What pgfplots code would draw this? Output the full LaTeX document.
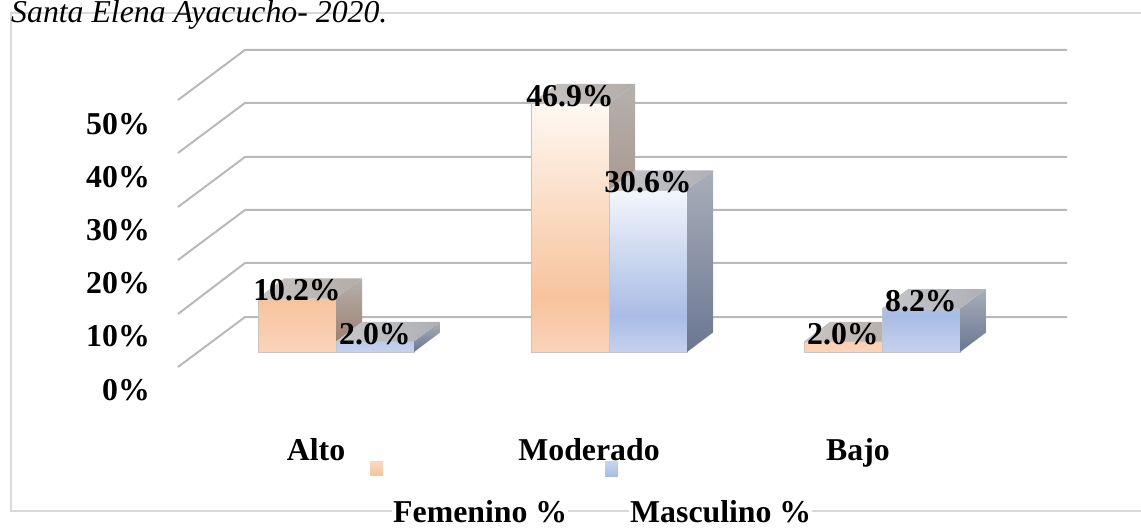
\documentclass[border=0pt]{standalone}
\usepackage{fontspec}
\setmainfont{Liberation Serif}
\usepackage{pgfplots}
\pgfplotsset{compat=1.18}
\definecolor{femtop}{HTML}{FFF8F2}
\definecolor{femdark}{HTML}{F7C39D}
\definecolor{femlow}{HTML}{FAD3B9}
\definecolor{mastop}{HTML}{F3F6FC}
\definecolor{masdark}{HTML}{A9BCE4}
\definecolor{maslow}{HTML}{C5D2EE}
\definecolor{femsideT}{HTML}{B5B0AD}
\definecolor{femsideB}{HTML}{9A7866}
\definecolor{massideT}{HTML}{A9AEB8}
\definecolor{massideB}{HTML}{6A7793}
\definecolor{femtopL}{HTML}{C9C5C3}
\definecolor{femtopR}{HTML}{B2ACA8}
\definecolor{mastopL}{HTML}{C6C7CA}
\definecolor{mastopR}{HTML}{AEB0B6}
\definecolor{gridc}{HTML}{B9B9B9}
\definecolor{borderc}{HTML}{D9D9D9}
\pgfdeclareverticalshading{femshade}{100bp}{color(0bp)=(femlow); color(25bp)=(femlow); color(36bp)=(femdark); color(75bp)=(femtop); color(100bp)=(femtop)}
\pgfdeclareverticalshading{masshade}{100bp}{color(0bp)=(maslow); color(25bp)=(maslow); color(36bp)=(masdark); color(75bp)=(mastop); color(100bp)=(mastop)}
\newcommand\chartfont{\fontsize{31.8}{38}\selectfont}
\tikzset{wall/.style={draw=gridc, line width=2pt, line join=round},
  lab/.style={inner sep=0pt, font=\chartfont\bfseries}}
\begin{document}
\begin{tikzpicture}
\begin{axis}[name=ax, scale only axis, width=1141pt, height=527pt,
  xmin=-1.2308, xmax=2.9487, ymin=-33.02, ymax=66.42,
  hide axis, clip=false, enlargelimits=false]
% chart border
\draw[borderc, line width=1.4pt] (axis cs:-1.1905,-30.0) rectangle (axis cs:3.05,63.96);
% walls / gridlines
\addplot[wall] coordinates {(-0.5788,-2.83) (-0.3333,6.6) (2.678,6.6)};
\addplot[wall] coordinates {(-0.5788,7.17) (-0.3333,16.8) (2.678,16.8)};
\addplot[wall] coordinates {(-0.5788,17.36) (-0.3333,26.8) (2.678,26.8)};
\addplot[wall] coordinates {(-0.5788,27.36) (-0.3333,36.8) (2.678,36.8)};
\addplot[wall] coordinates {(-0.5788,37.55) (-0.3333,47.0) (2.678,47.0)};
\addplot[wall] coordinates {(-0.5788,47.55) (-0.3333,57.0) (2.678,57.0)};
% Femenino front faces
\addplot[ybar, bar width=0.285714, bar shift=-0.142857, shade, shading=femshade, draw=gray!45, line width=0.5pt]
  coordinates {(0,10.2) (1,46.9) (2,2.0)};
% Femenino side faces
\addplot[draw=none, top color=femsideT, bottom color=femsideB] coordinates {(0,0) (0,10.2) (0.0952,13.88) (0.0952,3.68)} -- cycle;
\addplot[draw=none, top color=femsideT, bottom color=femsideB] coordinates {(1,0) (1,46.9) (1.0952,50.58) (1.0952,3.68)} -- cycle;
\addplot[draw=none, top color=femsideT, bottom color=femsideB] coordinates {(2,0) (2,2.0) (2.0952,5.68) (2.0952,3.68)} -- cycle;
% Femenino top faces
\addplot[draw=none, left color=femtopL, right color=femtopR] coordinates {(-0.285714,10.2) (0,10.2) (0.0952,13.88) (-0.1905,13.88)} -- cycle;
\addplot[draw=none, left color=femtopL, right color=femtopR] coordinates {(0.714286,46.9) (1,46.9) (1.0952,50.58) (0.8095,50.58)} -- cycle;
\addplot[draw=none, left color=femtopL, right color=femtopR] coordinates {(1.714286,2.0) (2,2.0) (2.0952,5.68) (1.8095,5.68)} -- cycle;
% Masculino front faces
\addplot[ybar, bar width=0.285714, bar shift=0.142857, shade, shading=masshade, draw=gray!45, line width=0.5pt]
  coordinates {(0,2.0) (1,30.6) (2,8.2)};
% Masculino side faces
\addplot[draw=none, top color=massideT, bottom color=massideB] coordinates {(0.285714,0) (0.285714,2.0) (0.3809,5.68) (0.3809,3.68)} -- cycle;
\addplot[draw=none, top color=massideT, bottom color=massideB] coordinates {(1.285714,0) (1.285714,30.6) (1.3809,34.28) (1.3809,3.68)} -- cycle;
\addplot[draw=none, top color=massideT, bottom color=massideB] coordinates {(2.285714,0) (2.285714,8.2) (2.3809,11.88) (2.3809,3.68)} -- cycle;
% Masculino top faces
\addplot[draw=none, left color=mastopL, right color=mastopR] coordinates {(0,2.0) (0.285714,2.0) (0.3809,5.68) (0.0952,5.68)} -- cycle;
\addplot[draw=none, left color=mastopL, right color=mastopR] coordinates {(1,30.6) (1.285714,30.6) (1.3809,34.28) (1.0952,34.28)} -- cycle;
\addplot[draw=none, left color=mastopL, right color=mastopR] coordinates {(2,8.2) (2.285714,8.2) (2.3809,11.88) (2.0952,11.88)} -- cycle;
% data labels
\addplot[draw=none, nodes near coords, point meta=explicit symbolic,
  every node near coord/.style={anchor=base, yshift=-3pt, inner sep=0pt, font=\chartfont\bfseries, text=black}]
  coordinates {(-0.142857,10.2) [10.2\%] (0.142857,2.0) [2.0\%] (0.857143,46.9) [46.9\%] (1.142857,30.6) [30.6\%] (1.857143,2.0) [2.0\%] (2.142857,8.2) [8.2\%]};
% y tick labels
\node[lab, anchor=base east] at (axis cs:-0.6813,-9.06) {0\%};
\node[lab, anchor=base east] at (axis cs:-0.6813,0.98) {10\%};
\node[lab, anchor=base east] at (axis cs:-0.6813,11.02) {20\%};
\node[lab, anchor=base east] at (axis cs:-0.6813,21.06) {30\%};
\node[lab, anchor=base east] at (axis cs:-0.6813,31.09) {40\%};
\node[lab, anchor=base east] at (axis cs:-0.6813,41.13) {50\%};
% category labels
\node[lab, anchor=base] at (axis cs:-0.073,-20.38) {Alto};
\node[lab, anchor=base] at (axis cs:0.9267,-20.38) {Moderado};
\node[lab, anchor=base] at (axis cs:1.912,-20.38) {Bajo};
% legend
\fill[top color=femtop!40!femdark, bottom color=femdark] (axis cs:0.1245,-23.21) rectangle (axis cs:0.1722,-20.57);
\fill[top color=mastop!40!masdark, bottom color=masdark] (axis cs:0.9853,-23.40) rectangle (axis cs:1.033,-20.75);
\node[lab, anchor=base west, inner sep=1pt, fill=white] at (axis cs:0.2052,-32.08) {Femenino \%};
\node[lab, anchor=base west, inner sep=1pt, fill=white] at (axis cs:1.0733,-32.08) {Masculino \%};
% title
\node[anchor=base west, inner sep=0pt, font=\chartfont\itshape] at (axis cs:-1.1905,62.1) {Santa Elena Ayacucho- 2020.};
\end{axis}
\pgfresetboundingbox
\useasboundingbox (ax.south west) rectangle (ax.north east);
\end{tikzpicture}
\end{document}
